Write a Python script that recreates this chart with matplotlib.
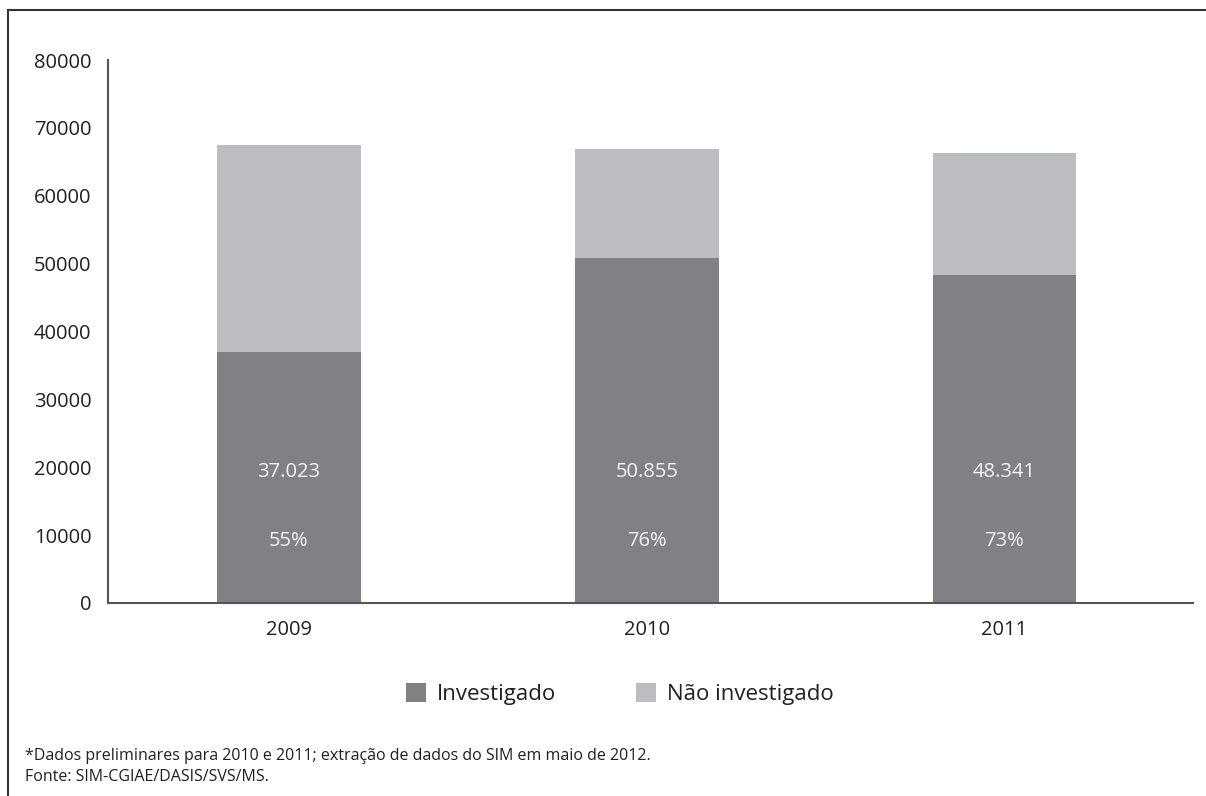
import matplotlib
matplotlib.use('Agg')
import matplotlib.pyplot as plt
from matplotlib.lines import Line2D
from matplotlib.patches import Patch

plt.rcParams['font.family'] = ['Open Sans', 'DejaVu Sans']

anos = ["2009", "2010", "2011"]
investigado = [37023, 50855, 48341]
nao_investigado = [30400, 16100, 18000]
percentuais = ["55%", "76%", "73%"]
rotulos_valor = ["37.023", "50.855", "48.341"]

cor_inv = "#818185"
cor_nao = "#bcbdc1"
cor_texto = "#231f20"

fig = plt.figure(figsize=(12.06, 7.96), dpi=100)
ax = fig.add_axes([108 / 1206, 1 - 603 / 796, (1193 - 108) / 1206, (603 - 60) / 796])

x = range(len(anos))
ax.bar(x, investigado, width=0.402, color=cor_inv, zorder=2)
ax.bar(x, nao_investigado, width=0.402, bottom=investigado, color=cor_nao, zorder=2)

for i in x:
    ax.text(i, 19300, rotulos_valor[i], ha="center", va="center",
            color="#f4f4f4", fontsize=14.5)
    ax.text(i, 9200, percentuais[i], ha="center", va="center",
            color="#f4f4f4", fontsize=14.5)

ax.set_xlim(-0.506, 2.527)
ax.set_ylim(0, 80000)
ax.set_yticks(range(0, 80001, 10000))
ax.set_yticklabels([str(v) for v in range(0, 80001, 10000)])
ax.set_xticks(list(x))
ax.set_xticklabels(anos)
ax.tick_params(axis="both", length=0, labelsize=14.5, labelcolor=cor_texto)
ax.tick_params(axis="y", pad=12)
ax.tick_params(axis="x", pad=12)
for lado in ["top", "right"]:
    ax.spines[lado].set_visible(False)
for lado in ["left", "bottom"]:
    ax.spines[lado].set_color("#555555")
    ax.spines[lado].set_linewidth(1.5)

handles = [Patch(facecolor=cor_inv, label="Investigado"),
           Patch(facecolor=cor_nao, label="Não investigado")]
fig.legend(handles=handles, loc="center", bbox_to_anchor=(620 / 1206, 1 - 694 / 796),
           ncol=2, frameon=False, fontsize=16, handlelength=0.9, handleheight=0.9,
           handletextpad=0.5, columnspacing=3.6, labelcolor=cor_texto)

fig.text(25 / 1206, 1 - 756 / 796, "*Dados preliminares para 2010 e 2011; extração de dados do SIM em maio de 2012.",
         fontsize=11.5, color=cor_texto, va="center")
fig.text(25 / 1206, 1 - 777 / 796, "Fonte: SIM-CGIAE/DASIS/SVS/MS.",
         fontsize=11.5, color=cor_texto, va="center")

# moldura: linha superior e lateral esquerda
fig.add_artist(Line2D([8 / 1206, 1], [1 - 10 / 796, 1 - 10 / 796], color="#333333", lw=1.5))
fig.add_artist(Line2D([8 / 1206, 8 / 1206], [0, 1 - 10 / 796], color="#333333", lw=1.5))

fig.savefig("out.png", dpi=100)
